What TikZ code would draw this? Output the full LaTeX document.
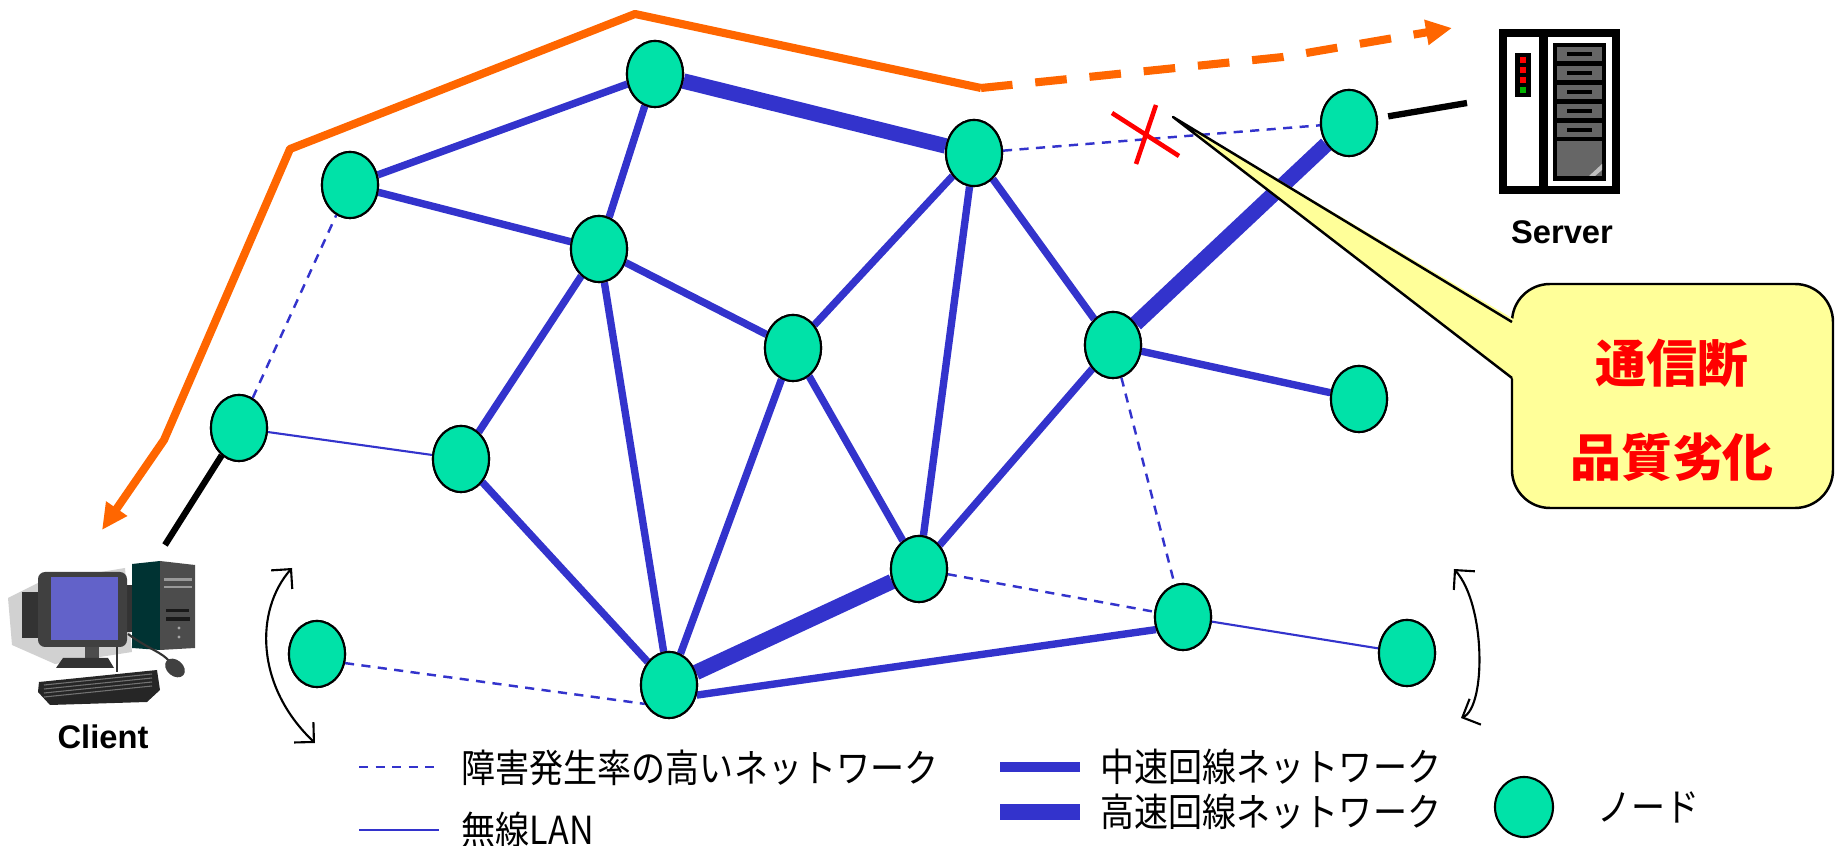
\documentclass[tikz,border=0pt]{standalone}
\usepackage{fontspec}
\setsansfont{Liberation Sans}
\newfontfamily\jp[FakeStretch=0.88]{Noto Sans CJK JP}
\newfontfamily\jpwide{Noto Sans CJK JP}
\usetikzlibrary{arrows.meta,shapes.geometric}
\definecolor{netblue}{RGB}{51,51,204}
\definecolor{nodegreen}{RGB}{0,226,168}
\definecolor{route}{RGB}{255,102,0}
\definecolor{balloon}{RGB}{255,255,153}
\definecolor{screen}{RGB}{98,98,201}
\tikzset{
  nd/.style={ellipse,draw=black,line width=0.6pt,fill=nodegreen,
    minimum width=0.56cm,minimum height=0.66cm,inner sep=0pt},
  lossy/.style={netblue,line width=0.7pt,dash pattern=on 2.6pt off 2.1pt},
  wlan/.style={netblue,line width=0.6pt},
  mid/.style={netblue,line width=2.1pt},
  fast/.style={netblue,line width=4.4pt},
  link/.style={black,line width=1.8pt},
  legtext/.style={anchor=west,inner sep=0pt,font=\jp\fontsize{11}{13}\selectfont},
  hostlabel/.style={font=\sffamily\bfseries\fontsize{9.3}{11}\selectfont},
  alarm/.style={red,font=\jpwide\bfseries\fontsize{14.5}{16}\selectfont},
  swing/.style={line width=0.6pt,{Straight Barb[length=4pt,width=8pt]}-{Straight Barb[length=4pt,width=8pt]}},
}
\begin{document}
\begin{tikzpicture}[x=0.01cm,y=-0.01cm]
    \useasboundingbox (0,0) rectangle (1835,846);
    %% route of the session
    \draw[route,line width=2.3pt,line join=round,-{Triangle[length=0.26cm,width=0.24cm]}]
        (981,88) -- (635,14) -- (290,149) -- (164,440) -- (102,530);
    \draw[route,line width=2.3pt,dash pattern=on 9pt off 6.5pt,-{Triangle[length=0.26cm,width=0.24cm]}]
        (981,88) -- (1283,57) -- (1452,28);
    %% nodes
    \node[nd] (n1) at (655,74) {};
    \node[nd] (n2) at (350,185) {};
    \node[nd] (n3) at (599,249) {};
    \node[nd] (n4) at (974,153) {};
    \node[nd] (n5) at (1349,123) {};
    \node[nd] (n6) at (793,348) {};
    \node[nd] (n7) at (1113,345) {};
    \node[nd] (n8) at (1359,399) {};
    \node[nd] (n9) at (239,428) {};
    \node[nd] (n10) at (461,459) {};
    \node[nd] (n11) at (919,569) {};
    \node[nd] (n12) at (1183,617) {};
    \node[nd] (n13) at (1407,653) {};
    \node[nd] (n14) at (317,654) {};
    \node[nd] (n15) at (669,685) {};
    %% links
    \draw[mid] (n2) -- (n1);
    \draw[mid] (n2) -- (n3);
    \draw[mid] (n1) -- (n3);
    \draw[fast] (n1) -- (n4);
    \draw[mid] (n3) -- (n6);
    \draw[mid] (n3) -- (n10);
    \draw[mid] (n3) -- (n15);
    \draw[mid] (n10) -- (n15);
    \draw[mid] (n6) -- (n15);
    \draw[mid] (n6) -- (n4);
    \draw[mid] (n6) -- (n11);
    \draw[mid] (n4) -- (n11);
    \draw[mid] (n4) -- (n7);
    \draw[mid] (n7) -- (n11);
    \draw[fast] (n7) -- (n5);
    \draw[mid] (n7) -- (n8);
    \draw[fast] (n11) -- (n15);
    \draw[mid] (n15.-20) -- (n12.205);
    \draw[lossy] (n4) -- (n5);
    \draw[lossy] (n7) -- (n12);
    \draw[lossy] (n11) -- (n12);
    \draw[lossy] (n14.-18) -- (n15.218);
    \draw[lossy] (n9) -- (n2);
    \draw[wlan] (n9) -- (n10);
    \draw[wlan] (n12) -- (n13);
    % redraw nodes over the links
    \foreach \n in {1,...,15} \node[nd] at (n\n) {};
    %% end hosts
    \coordinate (pcport) at (165,545);
    \coordinate (srvport) at (1467,103);
    \draw[link] (n9) -- (pcport);
    \draw[link,shorten <=3pt] (n5) -- (srvport);
    %% broken link
    \draw[red,line width=1.3pt] (1112,113) -- (1179,156) (1156,105) -- (1136,164);
    %% balloon
    \draw[fill=balloon,line width=0.7pt,rounded corners=0.38cm] (1512,284) rectangle (1833,508);
    \fill[balloon] (1173,117) -- (1515,320) -- (1515,380) -- cycle;
    \draw[line width=0.7pt,line join=round] (1512,322) -- (1173,117) -- (1512,378);
    \node[alarm] (cut) at (1672,363) {通信断};
    \node[alarm] (worse) at (1672,457) {品質劣化};
    %% moving nodes
    \draw[swing] (292,568) .. controls (255,610) and (255,686) .. (315,743);
    \draw[swing] (1454,569) .. controls (1486,605) and (1486,707) .. (1461,718);
    %% server
    \fill[black] (1499,29) rectangle (1620,194);
    \fill[white] (1507,37) rectangle (1539,186);
    \fill[white] (1548,37) rectangle (1612,186);
    \fill[black] (1553,43) rectangle (1606,181);
    \foreach \y in {47,66,85,104,123} {
        \fill[black!60] (1557,\y) rectangle (1602,\y+14);
        \fill[black] (1567,\y+5) rectangle (1592,\y+9);
    }
    \fill[black!60] (1557,141) rectangle (1602,176);
    \fill[black!25] (1602,164) -- (1602,170) -- (1595,176) -- (1589,176) -- cycle;
    \fill[black] (1515,53) rectangle (1531,97);
    \foreach \y in {57,67,77} \fill[red] (1520,\y) rectangle (1526,\y+6);
    \fill[green!70!black] (1520,87) rectangle (1526,93);
    \node[hostlabel] (srv) at (1562,232) {Server};
    %% client
    \fill[black!18] (8,598) -- (40,582) -- (125,568) -- (132,652) -- (55,664) -- (12,645) -- cycle;
    \fill[black!80] (22,592) rectangle (48,638);
    \fill[black!80] (120,585) rectangle (139,632);
    \fill[black!75,rounded corners=2pt] (38,572) rectangle (127,647);
    \fill[screen] (51,577) rectangle (118,640);
    \fill[black!70] (85,647) rectangle (99,660);
    \fill[black!80] (56,668) -- (63,658) -- (108,658) -- (114,668) -- cycle;
    \fill[teal!40!black] (132,564) -- (160,561) -- (160,650) -- (132,648) -- cycle;
    \fill[black!70] (160,561) -- (195,565) -- (195,648) -- (160,650) -- cycle;
    \fill[black!40] (164,578) rectangle (192,581);
    \fill[black!40] (164,586) rectangle (192,588);
    \fill[black!90] (166,609) rectangle (189,612);
    \fill[black!90] (166,617) rectangle (190,621);
    \fill[black!35] (179,628) circle (1.6) (179,637) circle (1.6);
    \draw[black!80,line width=0.6pt] (128,634) .. controls (150,650) and (162,652) .. (170,662);
    \draw[black!80,line width=0.6pt] (117,647) -- (117,672);
    \fill[black!85] (39,682) -- (157,670) -- (160,690) -- (147,702) -- (50,705) -- (38,692) -- cycle;
    \foreach \k in {0,1,2,3} \draw[black!55,line width=0.3pt] (44,685+4*\k) -- (152,674+4*\k);
    \fill[black!75,rotate around={-40:(175,668)}] (175,668) ellipse (11 and 8);
    \node[hostlabel] (pc) at (103,737) {Client};
    %% legend
    \draw[lossy] (359,767) -- (436,767);
    \node[legtext] (leg1) at (461,768) {障害発生率の高いネットワーク};
    \draw[wlan] (359,830) -- (439,830);
    \node[legtext] (leg2) at (461,830) {無線LAN};
    \draw[mid,line width=2.8pt] (1000,767) -- (1080,767);
    \node[legtext] (leg3) at (1100,767) {中速回線ネットワーク};
    \draw[fast] (1000,812) -- (1080,812);
    \node[legtext] (leg4) at (1100,812) {高速回線ネットワーク};
    \node[nd,minimum width=0.58cm,minimum height=0.6cm] (legnode) at (1524,807) {};
    \node[legtext] (leg5) at (1597,807) {ノード};
\end{tikzpicture}
\end{document}
